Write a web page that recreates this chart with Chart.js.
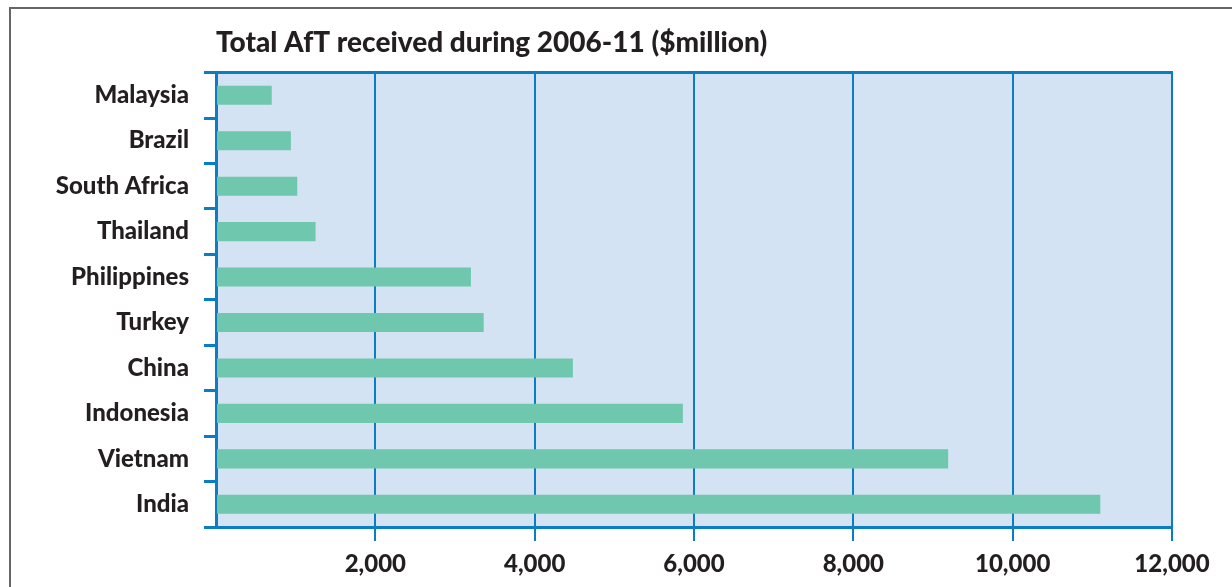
<!DOCTYPE html>
<html>
<head>
<meta charset="utf-8">
<script src="https://cdn.jsdelivr.net/npm/chart.js@4.4.1/dist/chart.umd.min.js"></script>
<style>
  html, body { margin: 0; padding: 0; background: #ffffff; }
  #wrap { width: 1232px; height: 587px; position: relative; }
</style>
</head>
<body>
<div id="wrap"><canvas id="canvas" width="1232" height="587"></canvas></div>
<script>
const countries = ["Malaysia", "Brazil", "South Africa", "Thailand", "Philippines",
                   "Turkey", "China", "Indonesia", "Vietnam", "India"];
const aftReceived = [700, 940, 1020, 1250, 3200, 3360, 4480, 5860, 9190, 11100];
const xTicks = [0, 2000, 4000, 6000, 8000, 10000, 12000];
const titleText = "Total AfT received during 2006-11 ($million)";

const BLUE = "#0b7dc3";
const TEXT = "#231f20";
const FONT = "Lato, sans-serif";

// light blue panel, top edge of the plot and the grey frame round the figure
const panel = {
  id: "panel",
  beforeDraw(chart) {
    const { ctx, chartArea: a } = chart;
    ctx.save();
    ctx.fillStyle = "#d3e3f3";
    ctx.fillRect(a.left, a.top, a.right - a.left, a.bottom - a.top);
    ctx.strokeStyle = "#666666";
    ctx.lineWidth = 2;
    ctx.beginPath();
    ctx.moveTo(10, 587);
    ctx.lineTo(10, 8);
    ctx.lineTo(1232, 8);
    ctx.stroke();
    ctx.restore();
  },
  afterDraw(chart) {
    const { ctx, chartArea: a } = chart;
    ctx.save();
    ctx.strokeStyle = BLUE;
    ctx.lineWidth = 3;
    ctx.beginPath();
    ctx.moveTo(a.left, a.top);
    ctx.lineTo(a.right + 1, a.top);
    ctx.stroke();
    ctx.restore();
  }
};

new Chart(document.getElementById("canvas"), {
  type: "bar",
  data: {
    labels: countries,
    datasets: [{
      label: "Total AfT",
      data: aftReceived,
      backgroundColor: "#6fc7ad",
      barPercentage: 0.42,
      categoryPercentage: 1
    }]
  },
  options: {
    indexAxis: "y",
    responsive: false,
    animation: false,
    layout: { padding: { left: 0, right: 60, top: 0, bottom: 0 } },
    plugins: {
      legend: { display: false },
      tooltip: { enabled: false },
      title: {
        display: true,
        text: titleText,
        align: "start",
        fullSize: false,
        color: TEXT,
        font: { family: FONT, size: 28, weight: 900 },
        padding: { top: 26, bottom: 13 }
      }
    },
    scales: {
      x: {
        min: 0,
        max: 12000,
        afterBuildTicks(scale) { scale.ticks = xTicks.map(v => ({ value: v })); },
        afterFit(scale) { scale.height = 60; },
        border: { display: true, color: BLUE, width: 3 },
        grid: {
          color: ctx => (ctx.tick && ctx.tick.value === 0) ? "rgba(0,0,0,0)" : BLUE,
          lineWidth: 2,
          tickLength: 14,
          drawOnChartArea: true
        },
        ticks: {
          color: TEXT,
          padding: 9,
          maxRotation: 0,
          font: { family: FONT, size: 24, weight: 900 },
          callback: v => v === 0 ? "" : v.toLocaleString("en-US")
        }
      },
      y: {
        afterFit(scale) { scale.width = 216; },
        border: { display: true, color: BLUE, width: 3 },
        grid: {
          offset: true,
          color: BLUE,
          lineWidth: 3,
          tickLength: 12,
          drawOnChartArea: false
        },
        ticks: {
          color: TEXT,
          padding: 15,
          font: { family: FONT, size: 24, weight: 900 }
        }
      }
    }
  },
  plugins: [panel]
});
</script>
</body>
</html>
